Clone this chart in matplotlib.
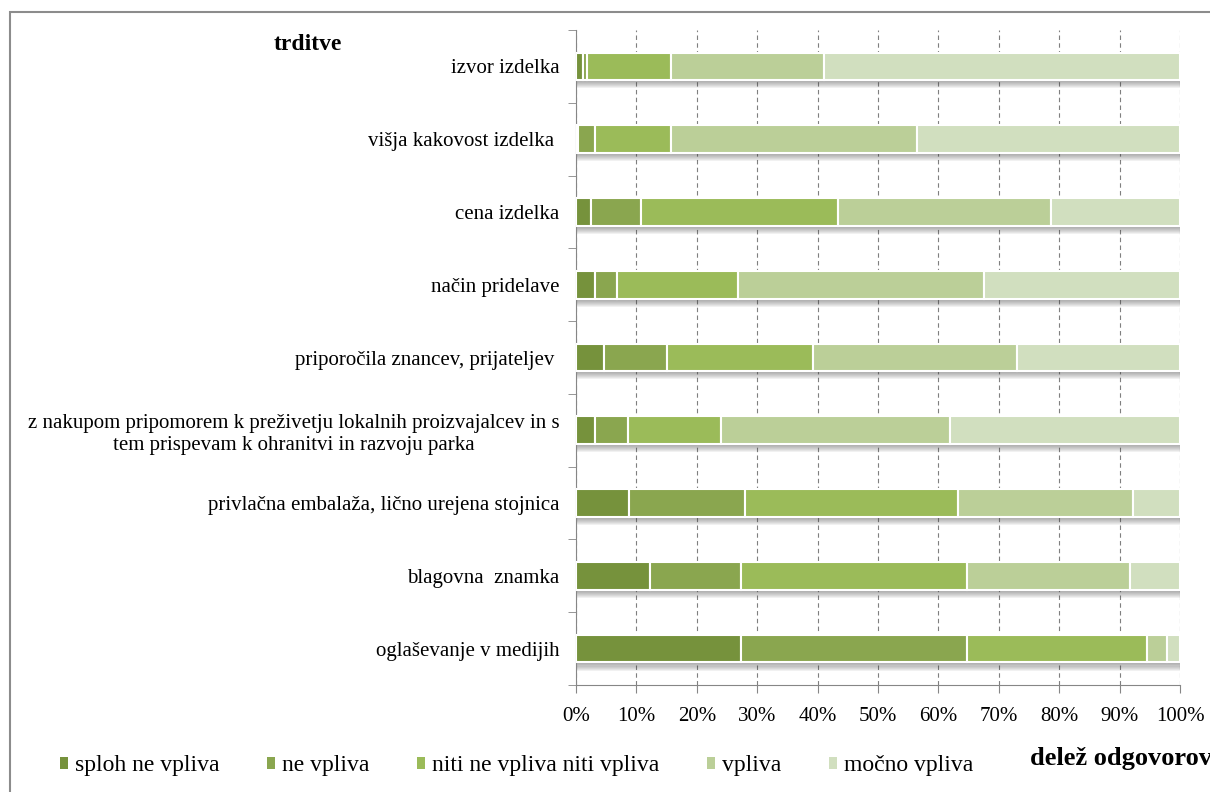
# stacked 100% bar chart - vpliv dejavnikov na nakup
import matplotlib.pyplot as plt
import numpy as np
from matplotlib.patches import Patch, Rectangle

plt.rcParams['font.family'] = ['Liberation Serif', 'DejaVu Serif']

# categories, top to bottom
trditve = ['izvor izdelka',
           'višja kakovost izdelka ',
           'cena izdelka',
           'način pridelave',
           'priporočila znancev, prijateljev ',
           'z nakupom pripomorem k preživetju lokalnih proizvajalcev in s\ntem prispevam k ohranitvi in razvoju parka',
           'privlačna embalaža, lično urejena stojnica',
           'blagovna  znamka',
           'oglaševanje v medijih']

# shares in % per answer
sploh_ne_vpliva = [1.2, 0.3, 2.5, 3.2, 4.7, 3.2, 8.7, 12.3, 27.4]
ne_vpliva = [0.6, 2.9, 8.3, 3.6, 10.4, 5.4, 19.3, 15.1, 37.3]
niti_niti = [13.9, 12.5, 32.5, 20.0, 24.2, 15.4, 35.2, 37.3, 29.8]
vpliva = [25.4, 40.8, 35.3, 40.8, 33.7, 38.0, 29.1, 27.1, 3.3]
mocno_vpliva = [58.9, 43.5, 21.4, 32.4, 27.0, 38.0, 7.7, 8.2, 2.2]

odgovori = ['sploh ne vpliva', 'ne vpliva', 'niti ne vpliva niti vpliva', 'vpliva', 'močno vpliva']
barve = ['#76923c', '#8aa64f', '#9bbb59', '#bbcf98', '#d1dfbf']

series = [sploh_ne_vpliva, ne_vpliva, niti_niti, vpliva, mocno_vpliva]

fig = plt.figure(figsize=(12.1, 7.92), dpi=100)
ax = fig.add_axes([576/1210, 1-685/792, 604/1210, 655/792])

n = len(trditve)
y = np.arange(n)[::-1]
h = 0.38

# shadow under the bars
for j in range(1, 9):
    ax.barh(y - 0.014*j, 100, height=h, color='#404040', alpha=0.07, lw=0, zorder=2)

left = np.zeros(n)
for vals, c, lab in zip(series, barve, odgovori):
    vals = np.array(vals)
    ax.barh(y, vals, left=left, height=h, color=c, edgecolor='white', lw=1.5, zorder=3, label=lab)
    left += vals

ax.set_xlim(0, 100)
ax.set_ylim(-0.5, n - 0.5)
ax.set_xticks(np.arange(0, 101, 10))
ax.set_xticklabels([f'{v}%' for v in range(0, 101, 10)], fontsize=15)
ax.xaxis.grid(True, ls=(0, (4, 3)), color='#7f7f7f', lw=0.8, zorder=0)
ax.set_axisbelow(True)

ax.set_yticks(y)
ax.set_yticklabels(trditve, fontsize=15, multialignment='center')
ax.set_yticks(np.arange(-0.5, n, 1), minor=True)
ax.tick_params(axis='y', which='major', length=0, pad=12)
ax.tick_params(axis='y', which='minor', length=6, color='#868686')
ax.tick_params(axis='x', length=6, color='#868686', pad=10)

for s in ['top', 'right']:
    ax.spines[s].set_visible(False)
for s in ['left', 'bottom']:
    ax.spines[s].set_color('#868686')

fig.text(308/1210, 1-45/792, 'trditve', fontsize=17, fontweight='bold', ha='center', va='center')
fig.text(1030/1210, 1-759/792, 'delež odgovorov', fontsize=19, fontweight='bold', ha='left', va='center')

handles = [Patch(facecolor=c, edgecolor='none') for c in barve]
fig.legend(handles, odgovori, loc='center left', bbox_to_anchor=(60/1210, 1-766/792), ncol=5,
           frameon=False, fontsize=17, handlelength=0.35, handleheight=0.45, handletextpad=0.3,
           columnspacing=2.0, borderpad=0, borderaxespad=0)

# outer chart border
fig.patches.append(Rectangle((10/1210, -0.1), 1.2, (792-12)/792 + 0.1, transform=fig.transFigure,
                             fill=False, edgecolor='#8c8c8c', lw=1.5))

plt.savefig('out.png', dpi=100)
